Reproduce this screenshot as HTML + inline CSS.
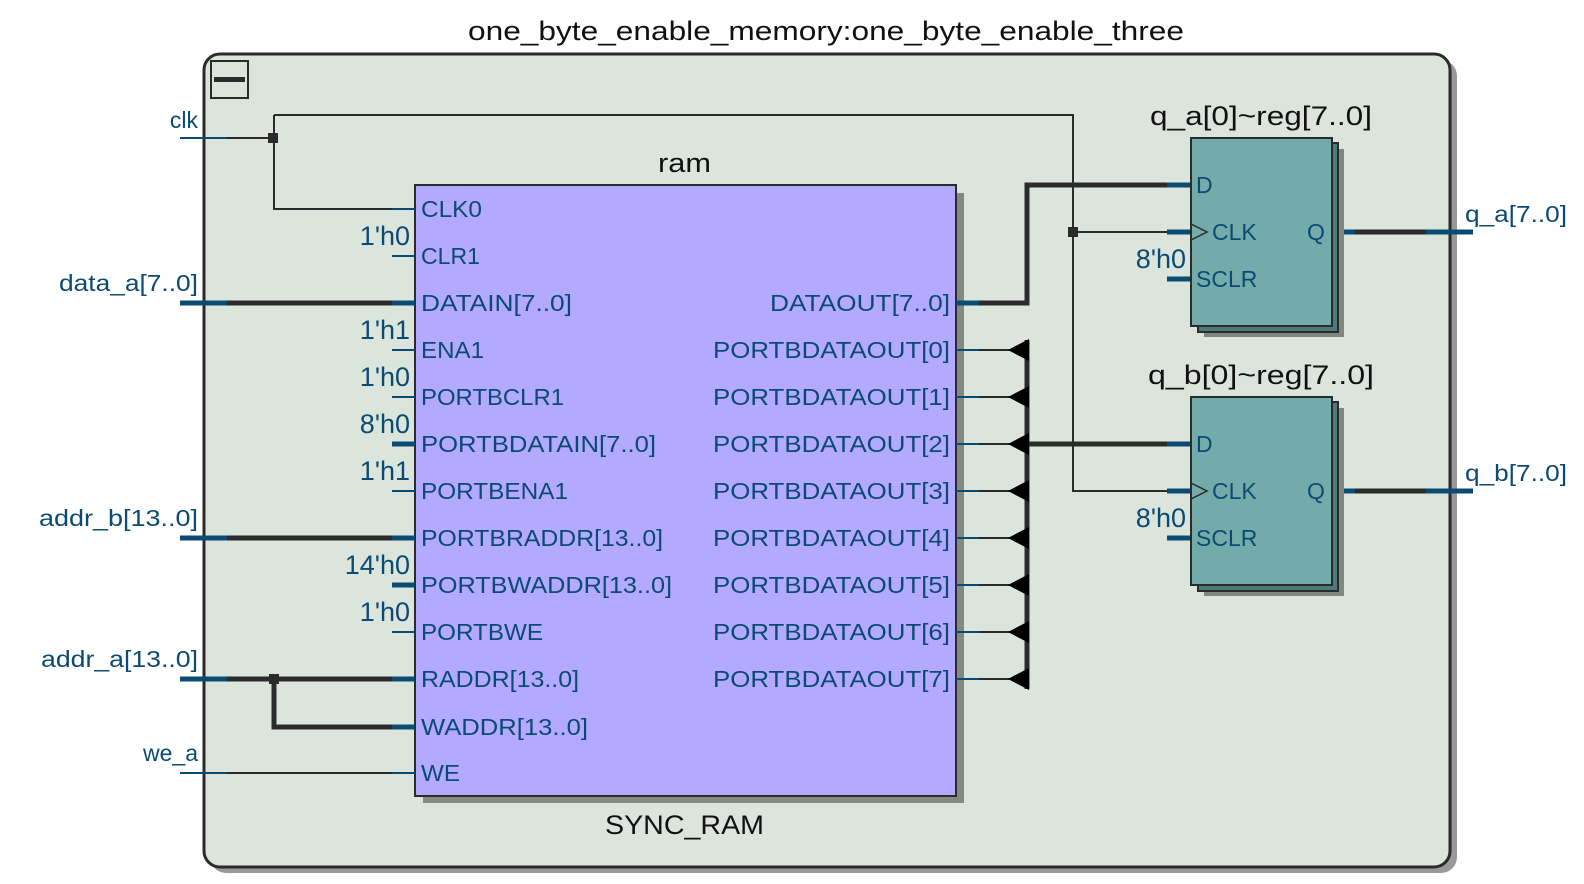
<!DOCTYPE html>
<html><head><meta charset="utf-8"><style>
html,body{margin:0;padding:0;background:#fff;}
svg{display:block;}
text{font-family:"Liberation Sans",sans-serif;}
.b{fill:#0b4a72;font-size:23px;}
.k{fill:#111;font-size:27px;}
</style></head><body>
<svg width="1584" height="884" viewBox="0 0 1584 884" xmlns="http://www.w3.org/2000/svg">
<!-- outer box -->
<rect x="210" y="60" width="1247" height="813" rx="16" fill="#999"/>
<rect x="204" y="54" width="1246" height="813" rx="16" fill="#dce5dc" stroke="#2b2b2b" stroke-width="3"/>
<text class="k" x="468" y="40" textLength="716" lengthAdjust="spacingAndGlyphs">one_byte_enable_memory:one_byte_enable_three</text>
<rect x="211" y="61" width="37" height="37" fill="none" stroke="#2b2b2b" stroke-width="2"/>
<rect x="214" y="77" width="31" height="5" fill="#2b2b2b"/>

<!-- RAM -->
<rect x="423" y="193" width="541" height="610" fill="#828a82"/>
<rect x="415" y="185" width="541" height="611" fill="#b3aaff" stroke="#2b2b2b" stroke-width="2"/>
<text class="k" x="658" y="172" textLength="53" lengthAdjust="spacingAndGlyphs">ram</text>
<text class="k" x="605" y="834" textLength="159" lengthAdjust="spacingAndGlyphs">SYNC_RAM</text>

<!-- wires -->
<g stroke="#2b2b2b" fill="none">
 <!-- clk -->
 <path d="M227 138 H274 M274 115 V209 H392 M274 115 H1073 V491 H1167 M1073 232 H1167" stroke-width="2"/>
 <!-- data_a -->
 <path d="M227 303 H392" stroke-width="5"/>
 <path d="M227 538 H392" stroke-width="5"/>
 <path d="M227 679 H392 M274 679 V727 H392" stroke-width="5"/>
 <path d="M227 773 H392" stroke-width="2"/>
 <!-- dataout -->
 <path d="M979 303 H1027 V185 H1167" stroke-width="5"/>
 <path d="M1027 340 V689" stroke-width="5"/>
 <path d="M1027 444 H1167" stroke-width="5"/>
 <path d="M979 350 H1010 M979 397 H1010 M979 444 H1010 M979 491 H1010 M979 538 H1010 M979 585 H1010 M979 632 H1010 M979 679 H1010" stroke-width="2"/>
 <!-- outputs -->
 <path d="M1355 232 H1426 M1355 491 H1426" stroke-width="5"/>
</g>
<rect x="268" y="133" width="10" height="10" fill="#2b2b2b"/>
<rect x="1068" y="227" width="10" height="10" fill="#2b2b2b"/>
<rect x="269" y="674" width="10" height="10" fill="#2b2b2b"/>
<g fill="#000">
 <path d="M1008 350 L1029 339 V361 Z"/><path d="M1008 397 L1029 386 V408 Z"/>
 <path d="M1008 444 L1029 433 V455 Z"/><path d="M1008 491 L1029 480 V502 Z"/>
 <path d="M1008 538 L1029 527 V549 Z"/><path d="M1008 585 L1029 574 V596 Z"/>
 <path d="M1008 632 L1029 621 V643 Z"/><path d="M1008 679 L1029 668 V690 Z"/>
</g>
<!-- blue stubs -->
<g stroke="#0b4a72" fill="none">
 <path d="M180 138 H227 M180 773 H227 M392 209 H415 M392 256 H415 M392 350 H415 M392 397 H415 M392 491 H415 M392 632 H415 M392 773 H415" stroke-width="2"/>
 <path d="M180 303 H227 M180 538 H227 M180 679 H227 M392 303 H415 M392 444 H415 M392 538 H415 M392 585 H415 M392 679 H415 M392 727 H415" stroke-width="5"/>
 <path d="M956 303 H979" stroke-width="5"/>
 <path d="M956 350 H979 M956 397 H979 M956 444 H979 M956 491 H979 M956 538 H979 M956 585 H979 M956 632 H979 M956 679 H979" stroke-width="2"/>
 <path d="M1167 185 H1191 M1167 232 H1191 M1167 279 H1191 M1167 444 H1191 M1167 491 H1191 M1167 538 H1191 M1332 232 H1355 M1332 491 H1355 M1426 232 H1473 M1426 491 H1473" stroke-width="5"/>
</g>

<!-- registers -->
<g>
 <rect x="1204" y="149" width="140" height="188" fill="#7f877f"/>
 <rect x="1198" y="143" width="140" height="189" fill="#4f7a7a" stroke="#2b2b2b" stroke-width="2"/>
 <rect x="1191" y="138" width="141" height="188" fill="#73abab" stroke="#2b2b2b" stroke-width="2"/>
 <rect x="1204" y="408" width="140" height="188" fill="#7f877f"/>
 <rect x="1198" y="402" width="140" height="189" fill="#4f7a7a" stroke="#2b2b2b" stroke-width="2"/>
 <rect x="1191" y="397" width="141" height="188" fill="#73abab" stroke="#2b2b2b" stroke-width="2"/>
 <path d="M1191 224 L1207 232 L1191 240 M1191 483 L1207 491 L1191 499" stroke="#2b2b2b" stroke-width="1.5" fill="none"/>
</g>
<text class="k" x="1150" y="125" textLength="222" lengthAdjust="spacingAndGlyphs">q_a[0]~reg[7..0]</text>
<text class="k" x="1148" y="384" textLength="226" lengthAdjust="spacingAndGlyphs">q_b[0]~reg[7..0]</text>
<g class="b">
 <text x="1196" y="193">D</text><text x="1212" y="240">CLK</text><text x="1196" y="287">SCLR</text><text x="1307" y="240">Q</text>
 <text x="1196" y="452">D</text><text x="1212" y="499">CLK</text><text x="1196" y="546">SCLR</text><text x="1307" y="499">Q</text>
 <text x="1186" y="268" text-anchor="end" font-size="27">8'h0</text>
 <text x="1186" y="527" text-anchor="end" font-size="27">8'h0</text>
 <text x="1465" y="222" textLength="102" lengthAdjust="spacingAndGlyphs">q_a[7..0]</text>
 <text x="1465" y="481" textLength="102" lengthAdjust="spacingAndGlyphs">q_b[7..0]</text>
 <!-- inputs -->
 <text x="198" y="128" text-anchor="end">clk</text>
 <text x="59" y="291" textLength="139" lengthAdjust="spacingAndGlyphs">data_a[7..0]</text>
 <text x="39" y="526" textLength="159" lengthAdjust="spacingAndGlyphs">addr_b[13..0]</text>
 <text x="41" y="667" textLength="157" lengthAdjust="spacingAndGlyphs">addr_a[13..0]</text>
 <text x="198" y="761" text-anchor="end">we_a</text>
 <!-- constants -->
 <g font-size="27" text-anchor="end">
  <text x="410" y="245">1'h0</text>
  <text x="410" y="339">1'h1</text>
  <text x="410" y="386">1'h0</text>
  <text x="410" y="433">8'h0</text>
  <text x="410" y="480">1'h1</text>
  <text x="410" y="574">14'h0</text>
  <text x="410" y="621">1'h0</text>
 </g>
 <!-- ram left pins -->
 <text x="421" y="217" textLength="61" lengthAdjust="spacingAndGlyphs">CLK0</text>
 <text x="421" y="264" textLength="59" lengthAdjust="spacingAndGlyphs">CLR1</text>
 <text x="421" y="311" textLength="151" lengthAdjust="spacingAndGlyphs">DATAIN[7..0]</text>
 <text x="421" y="358" textLength="63" lengthAdjust="spacingAndGlyphs">ENA1</text>
 <text x="421" y="405" textLength="143" lengthAdjust="spacingAndGlyphs">PORTBCLR1</text>
 <text x="421" y="452" textLength="235" lengthAdjust="spacingAndGlyphs">PORTBDATAIN[7..0]</text>
 <text x="421" y="499" textLength="147" lengthAdjust="spacingAndGlyphs">PORTBENA1</text>
 <text x="421" y="546" textLength="242" lengthAdjust="spacingAndGlyphs">PORTBRADDR[13..0]</text>
 <text x="421" y="593" textLength="251" lengthAdjust="spacingAndGlyphs">PORTBWADDR[13..0]</text>
 <text x="421" y="640" textLength="122" lengthAdjust="spacingAndGlyphs">PORTBWE</text>
 <text x="421" y="687" textLength="158" lengthAdjust="spacingAndGlyphs">RADDR[13..0]</text>
 <text x="421" y="735" textLength="167" lengthAdjust="spacingAndGlyphs">WADDR[13..0]</text>
 <text x="421" y="781" textLength="39" lengthAdjust="spacingAndGlyphs">WE</text>
 <!-- ram right pins -->
 <text x="770" y="311" textLength="180" lengthAdjust="spacingAndGlyphs">DATAOUT[7..0]</text>
 <text x="713" y="358" textLength="237" lengthAdjust="spacingAndGlyphs">PORTBDATAOUT[0]</text>
 <text x="713" y="405" textLength="237" lengthAdjust="spacingAndGlyphs">PORTBDATAOUT[1]</text>
 <text x="713" y="452" textLength="237" lengthAdjust="spacingAndGlyphs">PORTBDATAOUT[2]</text>
 <text x="713" y="499" textLength="237" lengthAdjust="spacingAndGlyphs">PORTBDATAOUT[3]</text>
 <text x="713" y="546" textLength="237" lengthAdjust="spacingAndGlyphs">PORTBDATAOUT[4]</text>
 <text x="713" y="593" textLength="237" lengthAdjust="spacingAndGlyphs">PORTBDATAOUT[5]</text>
 <text x="713" y="640" textLength="237" lengthAdjust="spacingAndGlyphs">PORTBDATAOUT[6]</text>
 <text x="713" y="687" textLength="237" lengthAdjust="spacingAndGlyphs">PORTBDATAOUT[7]</text>
</g>
</svg>
</body></html>
